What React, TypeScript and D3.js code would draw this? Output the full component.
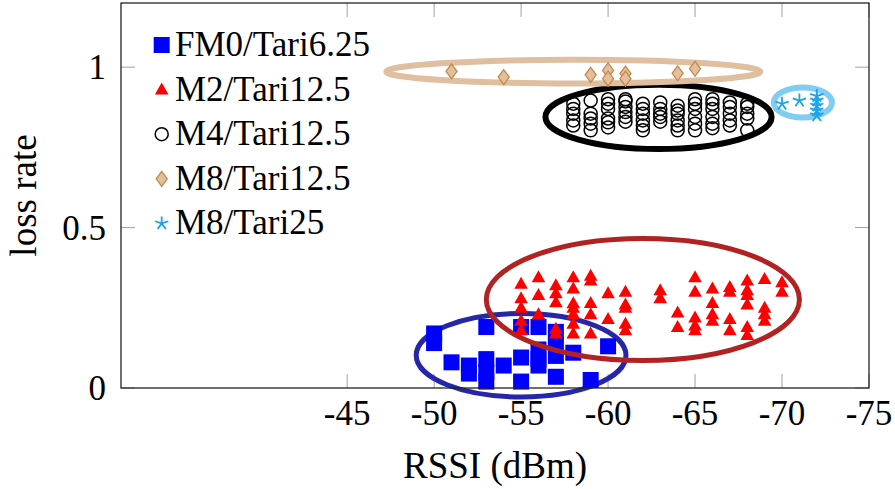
import React from 'react';
import * as d3 from 'd3';

// points are [rssi (dBm), loss rate]
const fm0Points = [
    [-50, 0.17], [-50, 0.14], [-51, 0.08], [-52, 0.07], [-52, 0.045],
    [-53, 0.19], [-53, 0.09], [-53, 0.05], [-53, 0.02], [-54, 0.07],
    [-55, 0.19], [-55, 0.095], [-55, 0.02], [-56, 0.19], [-56, 0.12],
    [-56, 0.09], [-56, 0.07], [-57, 0.175], [-57, 0.135], [-57, 0.1],
    [-57, 0.035], [-58, 0.11], [-59, 0.025], [-60, 0.13],
];

const m2Points = [
    [-55, 0.325], [-55, 0.28], [-55, 0.25], [-55, 0.21], [-55, 0.18],
    [-56, 0.345], [-56, 0.29], [-56, 0.23],
    [-57, 0.32], [-57, 0.295], [-57, 0.267], [-57, 0.185], [-57, 0.17],
    [-58, 0.345], [-58, 0.31], [-58, 0.264], [-58, 0.25], [-58, 0.23], [-58, 0.2], [-58, 0.17],
    [-59, 0.35], [-59, 0.335], [-59, 0.265], [-59, 0.23], [-59, 0.17],
    [-60, 0.295], [-60, 0.215],
    [-61, 0.3], [-61, 0.26], [-61, 0.25], [-61, 0.2], [-61, 0.18],
    [-63, 0.305], [-63, 0.28],
    [-64, 0.235], [-64, 0.19],
    [-65, 0.345], [-65, 0.3], [-65, 0.22], [-65, 0.195], [-65, 0.18],
    [-66, 0.31], [-66, 0.265], [-66, 0.23], [-66, 0.21],
    [-67, 0.315], [-67, 0.3], [-67, 0.215], [-67, 0.18],
    [-68, 0.335], [-68, 0.305], [-68, 0.29], [-68, 0.26], [-68, 0.19], [-68, 0.165],
    [-69, 0.34], [-69, 0.25], [-69, 0.23], [-69, 0.21],
    [-70, 0.33], [-70, 0.3],
];

const m4Points = [
    [-58, 0.886], [-58, 0.87], [-58, 0.855], [-58, 0.834], [-58, 0.818],
    [-59, 0.896], [-59, 0.855], [-59, 0.84], [-59, 0.824], [-59, 0.803],
    [-60, 0.9], [-60, 0.886], [-60, 0.87], [-60, 0.84], [-60, 0.828], [-60, 0.812],
    [-61, 0.9], [-61, 0.893], [-61, 0.876], [-61, 0.86], [-61, 0.845], [-61, 0.83],
    [-62, 0.886], [-62, 0.87], [-62, 0.855], [-62, 0.834], [-62, 0.818], [-62, 0.803],
    [-63, 0.89], [-63, 0.87], [-63, 0.855], [-63, 0.845], [-63, 0.83],
    [-64, 0.88], [-64, 0.865], [-64, 0.855], [-64, 0.834], [-64, 0.818], [-64, 0.803],
    [-65, 0.9], [-65, 0.886], [-65, 0.87], [-65, 0.845], [-65, 0.824], [-65, 0.803],
    [-66, 0.9], [-66, 0.886], [-66, 0.87], [-66, 0.845], [-66, 0.824], [-66, 0.81],
    [-67, 0.89], [-67, 0.876], [-67, 0.855], [-67, 0.834], [-67, 0.818],
    [-68, 0.886], [-68, 0.876], [-68, 0.855], [-68, 0.84], [-68, 0.803],
];

const m8t12Points = [
    [-51, 0.987], [-54, 0.969], [-59, 0.976], [-60, 0.99], [-60, 0.964],
    [-61, 0.98], [-61, 0.964], [-64, 0.981], [-65, 0.995],
];

const m8t25Points = [
    [-70, 0.886], [-71, 0.896], [-72, 0.91], [-72, 0.896], [-72, 0.88], [-72, 0.865], [-72, 0.85],
];

// ellipses: [centre rssi, centre loss, radius dBm, radius loss]
const fm0Ellipse = [-55, 0.102, 6.03, 0.13];
const m2Ellipse = [-62, 0.276, 9.0, 0.19];
const m4Ellipse = [-62.9, 0.845, 6.5, 0.1];
const m8t12Ellipse = [-58, 0.986, 10.75, 0.037];
const m8t25Ellipse = [-71.2, 0.89, 1.67, 0.047];

const legendLabels = ['FM0/Tari6.25', 'M2/Tari12.5', 'M4/Tari12.5', 'M8/Tari12.5', 'M8/Tari25'];
const xTicks = [-45, -50, -55, -60, -65, -70, -75];
const yTicks = [0, 0.5, 1];

const W = 895;
const H = 489;
const margin = { left: 121, right: 26, top: 3, bottom: 101 };
const font = '"Liberation Serif", "Times New Roman", serif';

function Marker({ kind, x, y }) {
    if (kind === 'square') {
        return <rect x={x - 8} y={y - 8} width={16} height={16} fill="#0000ff" />;
    }
    if (kind === 'triangle') {
        return <path d={`M${x},${y - 7} L${x + 6.8},${y + 5} L${x - 6.8},${y + 5} Z`} fill="#ff0000" />;
    }
    if (kind === 'circle') {
        return <circle cx={x} cy={y} r={6.5} fill="none" stroke="#000" strokeWidth={1.5} />;
    }
    if (kind === 'diamond') {
        return (
            <path
                d={`M${x},${y - 7.5} L${x + 5.5},${y} L${x},${y + 7.5} L${x - 5.5},${y} Z`}
                fill="#e2c09d"
                stroke="#c4884e"
                strokeWidth={1.3}
            />
        );
    }
    // star: five spokes
    const spokes = d3.range(5).map((i) => {
        const a = -Math.PI / 2 + (i * 2 * Math.PI) / 5;
        return `M${x},${y} L${x + 7 * Math.cos(a)},${y + 7 * Math.sin(a)}`;
    });
    return <path d={spokes.join(' ')} stroke="#1aa3e8" strokeWidth={1.8} fill="none" />;
}

export default function App() {
    const x = d3.scaleLinear([-32, -75], [margin.left, W - margin.right]);
    const y = d3.scaleLinear([0, 1.2], [H - margin.bottom, margin.top]);

    const series = [
        { kind: 'square', pts: fm0Points, ell: fm0Ellipse, ellColor: '#2626a8', ellWidth: 5 },
        { kind: 'triangle', pts: m2Points, ell: m2Ellipse, ellColor: '#b22222', ellWidth: 5 },
        { kind: 'circle', pts: m4Points, ell: m4Ellipse, ellColor: '#000000', ellWidth: 6 },
        { kind: 'diamond', pts: m8t12Points, ell: m8t12Ellipse, ellColor: '#dfbf9f', ellWidth: 6 },
        { kind: 'star', pts: m8t25Points, ell: m8t25Ellipse, ellColor: '#7fcdf2', ellWidth: 6 },
    ];

    const x0 = margin.left;
    const x1 = W - margin.right;
    const y0 = H - margin.bottom;
    const y1 = margin.top;

    return (
        <div style={{ position: 'absolute', left: 0, top: 0 }}>
            <svg width={W} height={H} style={{ display: 'block', background: '#fff' }} fontFamily={font}>
                {/* ticks, inside on all four sides */}
                {xTicks.map((t) => (
                    <g key={'xt' + t} stroke="#a0a0a0" strokeWidth={1}>
                        <line x1={x(t)} x2={x(t)} y1={y0} y2={y0 - 14} />
                        <line x1={x(t)} x2={x(t)} y1={y1} y2={y1 + 14} />
                    </g>
                ))}
                {yTicks.map((t) => (
                    <g key={'yt' + t} stroke="#a0a0a0" strokeWidth={1}>
                        <line x1={x0} x2={x0 + 14} y1={y(t)} y2={y(t)} />
                        <line x1={x1} x2={x1 - 14} y1={y(t)} y2={y(t)} />
                    </g>
                ))}

                {series.map((s, i) => {
                    const [cx, cy, rx, ry] = s.ell;
                    return (
                        <g key={'s' + i}>
                            <ellipse
                                cx={x(cx)}
                                cy={y(cy)}
                                rx={Math.abs(x(cx + rx) - x(cx))}
                                ry={Math.abs(y(cy + ry) - y(cy))}
                                fill="none"
                                stroke={s.ellColor}
                                strokeWidth={s.ellWidth}
                            />
                            {s.pts.map((p, j) => (
                                <Marker key={j} kind={s.kind} x={x(p[0])} y={y(p[1])} />
                            ))}
                        </g>
                    );
                })}

                <rect x={x0} y={y1} width={x1 - x0} height={y0 - y1} fill="none" stroke="#222" strokeWidth={1.3} />

                {xTicks.map((t) => (
                    <text key={'xl' + t} x={x(t)} y={425} textAnchor="middle" fontSize={35}>
                        {t}
                    </text>
                ))}
                {yTicks.map((t) => (
                    <text key={'yl' + t} x={106} y={y(t) + 12} textAnchor="end" fontSize={35}>
                        {t}
                    </text>
                ))}
                <text x={(x0 + x1) / 2} y={478} textAnchor="middle" fontSize={37}>
                    RSSI (dBm)
                </text>
                <text
                    transform={`translate(36,${(y0 + y1) / 2}) rotate(-90)`}
                    textAnchor="middle"
                    fontSize={37}
                >
                    loss rate
                </text>

                {legendLabels.map((label, i) => {
                    const ly = 45 + i * 44.6;
                    return (
                        <g key={'lg' + i}>
                            <Marker kind={series[i].kind} x={161.7} y={ly} />
                            <text x={175} y={ly + 11} fontSize={35}>
                                {label}
                            </text>
                        </g>
                    );
                })}
            </svg>
        </div>
    );
}
